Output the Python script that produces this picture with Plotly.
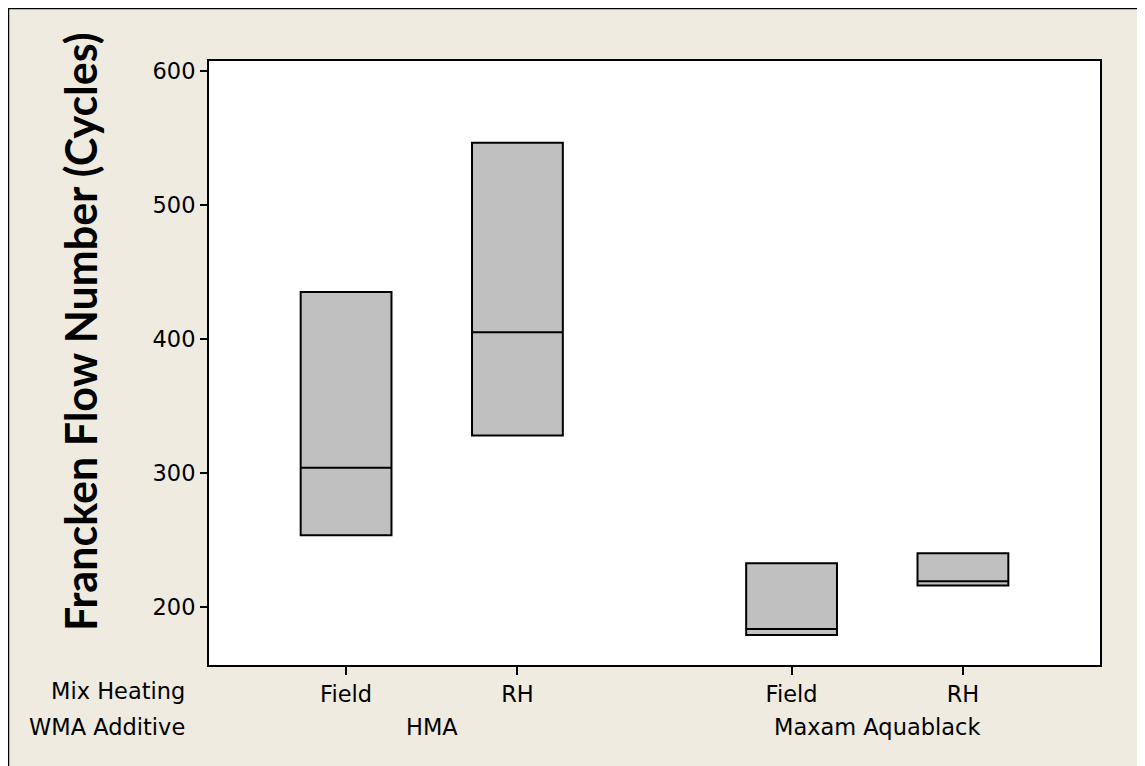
import plotly.graph_objects as go

# ---- data ----
mix_heating = ["Field", "RH", "Field", "RH"]
wma_additive = ["HMA", "HMA", "Maxam Aquablack", "Maxam Aquablack"]
q1_vals = [253.5, 328.0, 179.0, 216.0]
median_vals = [304.0, 405.0, 183.5, 219.2]
q3_vals = [435.0, 546.5, 232.6, 240.1]
y_ticks = [200, 300, 400, 500, 600]

# ---- layout constants ----
x_positions = [1.0, 2.0, 3.6, 4.6]
BG = "#EFEBE1"
FONT = "DejaVu Sans"
FS = 22.5
OFF = 8  # page body margin

fig = go.Figure()
for xp, a, m, b in zip(x_positions, q1_vals, median_vals, q3_vals):
    fig.add_trace(go.Box(
        x=[xp], q1=[a], median=[m], q3=[b], lowerfence=[a], upperfence=[b],
        width=0.53, fillcolor="#C0C0C0", line=dict(color="black", width=2),
        boxpoints=False, showlegend=False, hoverinfo="skip"))

W, H = 1145 - OFF, 766 - OFF
L, R, T, B = 209 - OFF, 45, 61 - OFF, 101
pw, ph = W - L - R, H - T - B

def px_x(p):
    return (p - OFF - L) / pw

def px_y(p):
    return (H - B - (p - OFF)) / ph

annotations = []
groups = {}
for xp, g in zip(x_positions, wma_additive):
    groups.setdefault(g, []).append(xp)
for g, xs in groups.items():
    annotations.append(dict(x=sum(xs) / len(xs), xref="x", y=px_y(727), yref="paper",
                            text=g, showarrow=False, xanchor="center", yanchor="middle",
                            font=dict(family=FONT, size=FS, color="black")))
annotations.append(dict(x=px_x(187), xref="paper", y=px_y(691), yref="paper",
                        text="Mix Heating", showarrow=False, xanchor="right", yanchor="middle",
                        font=dict(family=FONT, size=FS, color="black")))
annotations.append(dict(x=px_x(187), xref="paper", y=px_y(727), yref="paper",
                        text="WMA Additive", showarrow=False, xanchor="right", yanchor="middle",
                        font=dict(family=FONT, size=FS, color="black")))
annotations.append(dict(x=px_x(80), xref="paper", y=px_y(332), yref="paper",
                        text="<b>Francken Flow Number (Cycles)</b>", textangle=-90,
                        showarrow=False, xanchor="center", yanchor="middle",
                        font=dict(family="Lato", size=43, color="black")))

shapes = [
    dict(type="line", xref="paper", yref="paper", x0=px_x(OFF), x1=px_x(1200),
         y0=px_y(OFF + 0.5), y1=px_y(OFF + 0.5), line=dict(color="black", width=1.5)),
    dict(type="line", xref="paper", yref="paper", x0=px_x(OFF + 0.5), x1=px_x(OFF + 0.5),
         y0=px_y(OFF), y1=px_y(800), line=dict(color="black", width=1.5)),
]

fig.update_layout(
    width=W, height=H,
    margin=dict(l=L, r=R, t=T, b=B, pad=0),
    paper_bgcolor=BG, plot_bgcolor="white",
    annotations=annotations, shapes=shapes,
    font=dict(family=FONT, size=FS, color="black"),
)
fig.update_xaxes(
    range=[0.2, 5.4], tickvals=x_positions, ticktext=mix_heating,
    ticks="outside", ticklen=8, tickwidth=2, tickcolor="black",
    showline=True, linecolor="black", linewidth=2, mirror=True,
    showgrid=False, zeroline=False,
    tickfont=dict(family=FONT, size=FS, color="black"),
)
fig.update_yaxes(
    range=[156.7, 607.5], tickvals=y_ticks, ticktext=[str(v) for v in y_ticks],
    ticks="outside", ticklen=7, tickwidth=2, tickcolor="black",
    showline=True, linecolor="black", linewidth=2, mirror=True,
    showgrid=False, zeroline=False,
    tickfont=dict(family=FONT, size=FS, color="black"),
)

fig.write_html("out.html")
